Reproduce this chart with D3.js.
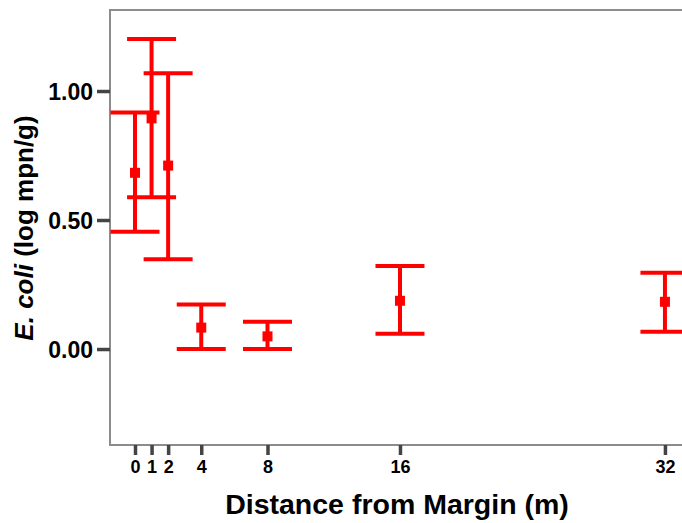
<!DOCTYPE html>
<html>
<head>
<meta charset="utf-8">
<script src="https://cdn.jsdelivr.net/npm/d3@7"></script>
<style>
  body { margin: 0; background: #fff; }
  svg text { font-family: "Liberation Sans", Arial, sans-serif; font-weight: bold; fill: #000; }
</style>
</head>
<body>
<div id="chart"></div>
<script>
// distance from margin (m) and E. coli (log mpn/g) with error bars
var distances = [0, 1, 2, 4, 8, 16, 32];
var means     = [0.683, 0.894, 0.711, 0.083, 0.049, 0.187, 0.183];
var lower     = [0.455, 0.588, 0.348, 0.000, 0.000, 0.059, 0.067];
var upper     = [0.917, 1.202, 1.069, 0.173, 0.106, 0.322, 0.296];
var yTicks = [0, 0.5, 1.0];

var width = 682, height = 523;
var plotLeft = 110, plotTop = 10, plotRight = 682, plotBottom = 445;

var svg = d3.select("#chart").append("svg")
  .attr("width", width)
  .attr("height", height);

var x = d3.scaleLinear().domain([-1.51, 33.03]).range([plotLeft, plotRight]);
var y = d3.scaleLinear().domain([-0.372, 1.314]).range([plotBottom, plotTop]);

// frame
svg.append("path")
  .attr("d", "M" + (plotRight + 5) + "," + plotTop + "H" + plotLeft + "V" + plotBottom + "H" + (plotRight + 5))
  .attr("fill", "none")
  .attr("stroke", "#8c8c8c")
  .attr("stroke-width", 2);

// y axis
var yAxis = svg.append("g")
  .attr("transform", "translate(" + plotLeft + ",0)")
  .call(d3.axisLeft(y).tickValues(yTicks).tickSize(13).tickPadding(4).tickFormat(d3.format(".2f")));
yAxis.select(".domain").remove();
yAxis.selectAll(".tick line").attr("stroke", "#444").attr("stroke-width", 3.5);
yAxis.selectAll(".tick text")
  .attr("font-size", 23)
  .attr("font-family", null)
  .attr("dy", "0.36em");

// x axis
var xAxis = svg.append("g")
  .attr("transform", "translate(0," + plotBottom + ")")
  .call(d3.axisBottom(x).tickValues(distances).tickSize(10).tickPadding(5).tickFormat(d3.format("d")));
xAxis.select(".domain").remove();
xAxis.selectAll(".tick line").attr("stroke", "#444").attr("stroke-width", 3.5);
xAxis.selectAll(".tick text")
  .attr("font-size", 18)
  .attr("font-family", null);

// axis titles
svg.append("text")
  .attr("x", 397)
  .attr("y", 514)
  .attr("text-anchor", "middle")
  .attr("font-size", 28.5)
  .text("Distance from Margin (m)");

var yt = svg.append("text")
  .attr("transform", "translate(33,228) rotate(-90)")
  .attr("text-anchor", "middle")
  .attr("font-size", 26);
yt.append("tspan").attr("font-style", "italic").text("E. coli");
yt.append("tspan").text(" (log mpn/g)");

// error bars
var capHalf = 24.5;
var red = "#ff0000";
var pts = distances.map(function(d, i) {
  return { d: d, m: means[i], lo: lower[i], hi: upper[i] };
});

var g = svg.append("g");
var bars = g.selectAll("g.bar").data(pts).enter().append("g").attr("class", "bar");

bars.append("line")
  .attr("x1", function(p) { return x(p.d); })
  .attr("x2", function(p) { return x(p.d); })
  .attr("y1", function(p) { return y(p.lo); })
  .attr("y2", function(p) { return y(p.hi); })
  .attr("stroke", red).attr("stroke-width", 4);

bars.selectAll("line.cap")
  .data(function(p) { return [{ d: p.d, v: p.lo }, { d: p.d, v: p.hi }]; })
  .enter().append("line")
  .attr("class", "cap")
  .attr("x1", function(c) { return x(c.d) - capHalf; })
  .attr("x2", function(c) { return x(c.d) + capHalf; })
  .attr("y1", function(c) { return y(c.v); })
  .attr("y2", function(c) { return y(c.v); })
  .attr("stroke", red).attr("stroke-width", 4);

bars.append("rect")
  .attr("x", function(p) { return x(p.d) - 5; })
  .attr("y", function(p) { return y(p.m) - 5; })
  .attr("width", 10)
  .attr("height", 10)
  .attr("fill", red);
</script>
</body>
</html>
